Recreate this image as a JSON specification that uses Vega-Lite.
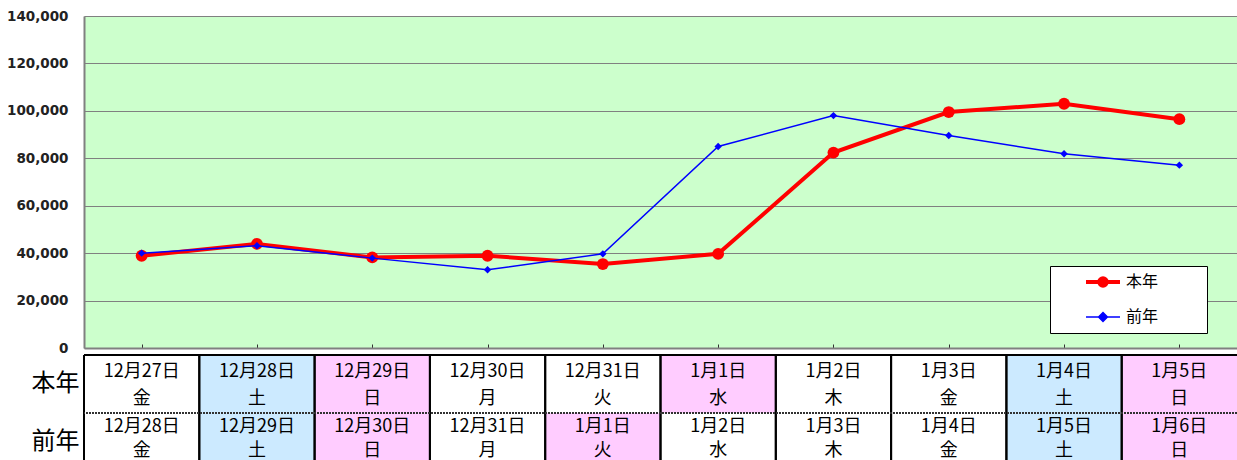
{
  "$schema": "https://vega.github.io/schema/vega-lite/v6.json",
  "background": "#ffffff",
  "padding": {"left": 0, "top": 9, "right": 0, "bottom": 0},
  "spacing": -7,
  "config": {"font": "Noto Sans CJK JP"},
  "datasets": {
    "series": [
      {"day": "12/27", "series": "本年", "value": 38900},
      {"day": "12/28", "series": "本年", "value": 43900},
      {"day": "12/29", "series": "本年", "value": 38200},
      {"day": "12/30", "series": "本年", "value": 38900},
      {"day": "12/31", "series": "本年", "value": 35400},
      {"day": "1/1", "series": "本年", "value": 39700},
      {"day": "1/2", "series": "本年", "value": 82400},
      {"day": "1/3", "series": "本年", "value": 99500},
      {"day": "1/4", "series": "本年", "value": 103000},
      {"day": "1/5", "series": "本年", "value": 96500},
      {"day": "12/27", "series": "前年", "value": 40000},
      {"day": "12/28", "series": "前年", "value": 43100},
      {"day": "12/29", "series": "前年", "value": 37900},
      {"day": "12/30", "series": "前年", "value": 33000},
      {"day": "12/31", "series": "前年", "value": 39700},
      {"day": "1/1", "series": "前年", "value": 85000},
      {"day": "1/2", "series": "前年", "value": 98000},
      {"day": "1/3", "series": "前年", "value": 89600},
      {"day": "1/4", "series": "前年", "value": 81900},
      {"day": "1/5", "series": "前年", "value": 77100}
    ],
    "table": [
      {"day": "12/27", "row": "本年", "date": "12月27日", "dow": "金", "type": "平日"},
      {"day": "12/28", "row": "本年", "date": "12月28日", "dow": "土", "type": "土"},
      {"day": "12/29", "row": "本年", "date": "12月29日", "dow": "日", "type": "日祝"},
      {"day": "12/30", "row": "本年", "date": "12月30日", "dow": "月", "type": "平日"},
      {"day": "12/31", "row": "本年", "date": "12月31日", "dow": "火", "type": "平日"},
      {"day": "1/1", "row": "本年", "date": "1月1日", "dow": "水", "type": "日祝"},
      {"day": "1/2", "row": "本年", "date": "1月2日", "dow": "木", "type": "平日"},
      {"day": "1/3", "row": "本年", "date": "1月3日", "dow": "金", "type": "平日"},
      {"day": "1/4", "row": "本年", "date": "1月4日", "dow": "土", "type": "土"},
      {"day": "1/5", "row": "本年", "date": "1月5日", "dow": "日", "type": "日祝"},
      {"day": "12/27", "row": "前年", "date": "12月28日", "dow": "金", "type": "平日"},
      {"day": "12/28", "row": "前年", "date": "12月29日", "dow": "土", "type": "土"},
      {"day": "12/29", "row": "前年", "date": "12月30日", "dow": "日", "type": "日祝"},
      {"day": "12/30", "row": "前年", "date": "12月31日", "dow": "月", "type": "平日"},
      {"day": "12/31", "row": "前年", "date": "1月1日", "dow": "火", "type": "日祝"},
      {"day": "1/1", "row": "前年", "date": "1月2日", "dow": "水", "type": "平日"},
      {"day": "1/2", "row": "前年", "date": "1月3日", "dow": "木", "type": "平日"},
      {"day": "1/3", "row": "前年", "date": "1月4日", "dow": "金", "type": "平日"},
      {"day": "1/4", "row": "前年", "date": "1月5日", "dow": "土", "type": "土"},
      {"day": "1/5", "row": "前年", "date": "1月6日", "dow": "日", "type": "日祝"}
    ]
  },
  "resolve": {"scale": {"x": "independent", "y": "independent"}},
  "vconcat": [
    {
      "width": 1153,
      "height": 332,
      "view": {"fill": "#ccffcc", "stroke": null},
      "data": {"name": "series"},
      "encoding": {
        "x": {
          "field": "day", "type": "ordinal", "sort": null,
          "scale": {"padding": 0.5},
          "axis": {
            "title": null, "labels": false, "grid": false,
            "domainColor": "#808080", "domainWidth": 2,
            "ticks": true, "tickColor": "#333333", "tickSize": -4, "tickWidth": 1,
            "labelPadding": 0, "minExtent": 1, "maxExtent": 1
          }
        },
        "y": {
          "field": "value", "type": "quantitative",
          "scale": {"domain": [0, 140000], "nice": false},
          "axis": {
            "title": null, "values": [0, 20000, 40000, 60000, 80000, 100000, 120000, 140000],
            "format": ",d", "grid": true, "gridColor": "#808080", "gridWidth": 1,
            "domainColor": "#808080", "domainWidth": 2, "ticks": false,
            "labelPadding": 16, "labelFont": "DejaVu Sans", "labelFontWeight": "bold",
            "labelFontSize": 13.5, "labelColor": "#222222",
            "minExtent": 84, "maxExtent": 84
          }
        },
        "color": {
          "field": "series", "type": "nominal",
          "scale": {"domain": ["本年", "前年"], "range": ["#ff0000", "#0000ff"]},
          "legend": {
            "orient": "none", "legendX": 966, "legendY": 250, "title": null,
            "fillColor": "#ffffff", "strokeColor": "#000000", "padding": 8,
            "rowPadding": 15, "symbolSize": 1156, "symbolOffset": 37, "labelOffset": 15,
            "labelFont": "Noto Sans CJK JP", "labelFontSize": 16, "labelColor": "#000000",
            "encode": {
              "symbols": {
                "update": {
                  "shape": {"signal": "datum.value === '本年' ? 'M-1,0H1M-0.22,0A0.22,0.22,0,1,1,0.22,0A0.22,0.22,0,1,1,-0.22,0ZM5.15,0' : 'M-1,0H1M0,-0.26L0.26,0L0,0.26L-0.26,0ZM5.15,0'"},
                  "fill": {"signal": "datum.value === '本年' ? '#ff0000' : '#0000ff'"},
                  "stroke": {"signal": "datum.value === '本年' ? '#ff0000' : '#0000ff'"},
                  "strokeWidth": {"signal": "datum.value === '本年' ? 4 : 1.5"},
                  "opacity": {"value": 1}
                }
              }
            }
          }
        }
      },
      "layer": [
        {
          "transform": [{"filter": "datum.series === '本年'"}],
          "mark": {"type": "line", "strokeWidth": 4}
        },
        {
          "transform": [{"filter": "datum.series === '本年'"}],
          "mark": {"type": "point", "filled": true, "opacity": 1, "shape": "circle", "size": 140}
        },
        {
          "transform": [{"filter": "datum.series === '前年'"}],
          "mark": {"type": "line", "strokeWidth": 1.5}
        },
        {
          "transform": [{"filter": "datum.series === '前年'"}],
          "mark": {"type": "point", "filled": true, "opacity": 1, "shape": "diamond", "size": 55}
        }
      ]
    },
    {
      "width": 1153,
      "height": 108,
      "view": {"stroke": null},
      "data": {"name": "table"},
      "layer": [
        {
          "mark": {"type": "rect", "clip": true},
          "encoding": {
            "x": {"field": "day", "type": "ordinal", "sort": null, "scale": {"paddingInner": 0, "paddingOuter": 0}, "axis": null},
            "y": {
              "field": "row", "type": "ordinal", "sort": ["本年", "前年"],
              "scale": {"range": [0, 116], "paddingInner": 0, "paddingOuter": 0},
              "axis": {
                "title": null, "domain": false, "ticks": false,
                "labelFont": "Noto Sans CJK JP", "labelFontSize": 24, "labelColor": "#000000",
                "labelPadding": 5, "minExtent": 84, "maxExtent": 84
              }
            },
            "fill": {
              "field": "type", "type": "nominal",
              "scale": {"domain": ["平日", "土", "日祝"], "range": ["#ffffff", "#cceaff", "#ffccff"]},
              "legend": null
            }
          }
        },
        {
          "transform": [{"filter": "datum.row === '本年'"}],
          "mark": {"type": "text", "dy": -12, "font": "Noto Sans CJK JP", "fontSize": 18, "color": "#000000", "clip": true},
          "encoding": {
            "x": {"field": "day", "type": "ordinal", "sort": null},
            "y": {"field": "row", "type": "ordinal", "sort": ["本年", "前年"]},
            "text": {"field": "date"}
          }
        },
        {
          "transform": [{"filter": "datum.row === '本年'"}],
          "mark": {"type": "text", "dy": 15, "font": "Noto Sans CJK JP", "fontSize": 18, "color": "#000000", "clip": true},
          "encoding": {
            "x": {"field": "day", "type": "ordinal", "sort": null},
            "y": {"field": "row", "type": "ordinal", "sort": ["本年", "前年"]},
            "text": {"field": "dow"}
          }
        },
        {
          "transform": [{"filter": "datum.row === '前年'"}],
          "mark": {"type": "text", "dy": -15, "font": "Noto Sans CJK JP", "fontSize": 18, "color": "#000000", "clip": true},
          "encoding": {
            "x": {"field": "day", "type": "ordinal", "sort": null},
            "y": {"field": "row", "type": "ordinal", "sort": ["本年", "前年"]},
            "text": {"field": "date"}
          }
        },
        {
          "transform": [{"filter": "datum.row === '前年'"}],
          "mark": {"type": "text", "dy": 9, "font": "Noto Sans CJK JP", "fontSize": 18, "color": "#000000", "clip": true},
          "encoding": {
            "x": {"field": "day", "type": "ordinal", "sort": null},
            "y": {"field": "row", "type": "ordinal", "sort": ["本年", "前年"]},
            "text": {"field": "dow"}
          }
        },
        {
          "mark": {"type": "rule", "color": "#000000", "strokeWidth": 2},
          "encoding": {
            "x": {"field": "day", "type": "ordinal", "sort": null, "bandPosition": 0}
          }
        },
        {
          "mark": {"type": "rule", "color": "#000000", "strokeWidth": 2},
          "encoding": {
            "y": {"datum": "本年", "type": "ordinal", "bandPosition": 0}
          }
        },
        {
          "mark": {"type": "rule", "color": "#333333", "strokeWidth": 1, "strokeDash": [2, 1]},
          "encoding": {
            "y": {"datum": "前年", "type": "ordinal", "bandPosition": 0}
          }
        }
      ]
    }
  ]
}
